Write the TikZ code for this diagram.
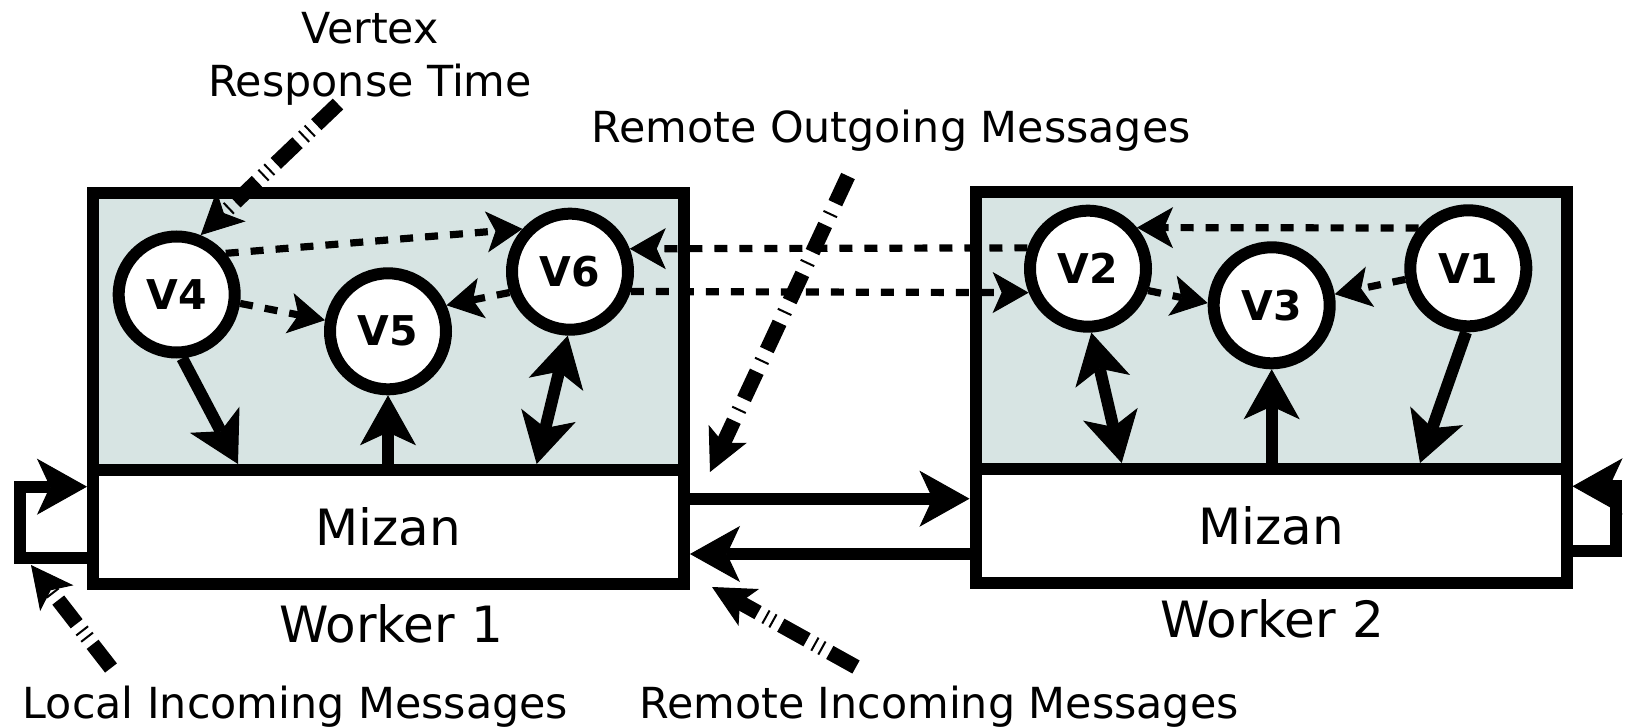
\documentclass[tikz,border=0pt]{standalone}
\usepackage{fontspec}
\setmainfont{DejaVu Sans}
\usetikzlibrary{arrows.meta,calc}
\definecolor{panel}{RGB}{215,228,227}
\begin{document}
\begin{tikzpicture}[x=0.5pt,y=-0.5pt,
  box/.style={draw, line width=6pt, minimum width=295.5pt, inner sep=0pt},
  panelbox/.style={box, fill=panel, minimum height=138.5pt},
  mizanbox/.style={box, fill=white, minimum height=57pt, font=\fontsize{25}{30}\selectfont},
  vertex/.style={circle, draw, fill=white, line width=6pt, minimum size=58pt, inner sep=0pt,
    font=\bfseries\fontsize{20.5}{24}\selectfont},
  labeltext/.style={inner sep=0pt, font=\fontsize{21.4}{26.25}\selectfont},
  workertext/.style={inner sep=0pt, font=\fontsize{25}{30}\selectfont},
  bighead/.tip={Stealth[length=25pt,width=28pt,inset=6.5pt,line width=0.5pt]},
  bigarrow/.style={line width=6pt, -bighead},
  bigboth/.style={line width=6pt, bighead-bighead},
  looparrow/.style={line width=6pt, -bighead},
  dasharrow/.style={line width=3.6pt, dash pattern=on 6.5pt off 6pt,
    -{Stealth[length=18pt,width=20.5pt,inset=4.5pt,line width=0.5pt]}},
  hinthead/.tip={Stealth[length=21pt,width=21pt,inset=5pt,line width=0.5pt]},
  hintarrow/.style={line width=7.5pt, dash pattern=on 15pt off 4pt on 1pt off 3pt on 1pt off 4pt, -hinthead},
  hintarrowone/.style={line width=7.5pt, dash pattern=on 15pt off 5.5pt on 1pt off 5.5pt, -hinthead}
]
\useasboundingbox (0,0) rectangle (1630,727);

% worker boxes: vertex area on top, Mizan layer below
\node[panelbox] (w1) at (388.5,331.5) {};
\node[mizanbox] (m1) at (388.5,527) {Mizan};
\node[panelbox] (w2) at (1271,330.5) {};
\node[mizanbox] (m2) at (1271,526) {Mizan};

% vertices
\node[vertex] (V4) at (176.7,294.5) {V4};
\node[vertex] (V5) at (388,331.3) {V5};
\node[vertex] (V6) at (570,271.7) {V6};
\node[vertex] (V2) at (1088,268.7) {V2};
\node[vertex] (V3) at (1271.7,305.3) {V3};
\node[vertex] (V1) at (1468.3,268.3) {V1};

% captions
\node[labeltext, align=center] (vrt) at (370,59) {Vertex\\Response Time};
\node[labeltext, anchor=base] (rom) at (891,142.3) {Remote Outgoing Messages};
\node[labeltext, anchor=base] (lim) at (295.5,718) {Local Incoming Messages};
\node[labeltext, anchor=base] (rim) at (939,718) {Remote Incoming Messages};
\node[workertext, anchor=base] (wl1) at (391,642) {Worker 1};
\node[workertext, anchor=base] (wl2) at (1272,638) {Worker 2};

% vertex <-> Mizan traffic
\coordinate (a4) at (238,464);
\coordinate (a6) at (536.7,464);
\coordinate (a2) at (1121.7,463);
\coordinate (a1) at (1420,463);
\draw[bigarrow] (V4.-85) -- (a4);
\draw[bigarrow] (m1.north -| V5.south) -- (V5.south);
\draw[bigboth] (a6) -- (V6.-92);
\draw[bigboth] (V2.-87) -- (a2);
\draw[bigarrow] (m2.north -| V3.south) -- (V3.south);
\draw[bigarrow] (V1.-92) -- (a1);

% Mizan <-> Mizan
\draw[bigarrow] ([yshift=14.15pt]m1.east) -- ([yshift=14.15pt]m1.east -| m2.west);
\draw[bigarrow] ([yshift=-14pt]m2.west) -- ([yshift=-14pt]m2.west -| m1.east);

% local loops
\draw[looparrow] ([yshift=-15.5pt]m1.west) -- ++(-67,0) |- ([yshift=20.15pt]m1.west);
\draw[looparrow] ([yshift=-12.5pt]m2.east) -- ++(43.6,0) |- ([yshift=19.85pt]m2.east);

% messages between vertices
\draw[dasharrow] (V4.40) -- (V6.138);
\draw[dasharrow] (V4.-8) -- (V5.170);
\draw[dasharrow] (V6.-161) -- (V5.24);
\draw[dasharrow] (V2.161) -- (V6.21);
\draw[dasharrow] (V6.-18) -- (V2.-158);
\draw[dasharrow] (V1.141) -- (V2.40);
\draw[dasharrow] (V1.-170) -- (V3.10);
\draw[dasharrow] (V2.-20) -- (V3.178);

% pointers from the captions
\coordinate (vrtA) at (338,104);
\coordinate (romA) at (848,176);
\coordinate (romB) at (710,472);
\coordinate (limA) at (111,668);
\coordinate (limB) at (31,565);
\coordinate (rimA) at (856,667);
\coordinate (rimB) at (712,587);
\draw[hintarrow] (vrtA) -- (V4.68);
\draw[hintarrowone] (romA) -- (romB);
\draw[hintarrow] (limA) -- (limB);
\draw[hintarrow] (rimA) -- (rimB);
\end{tikzpicture}
\end{document}
